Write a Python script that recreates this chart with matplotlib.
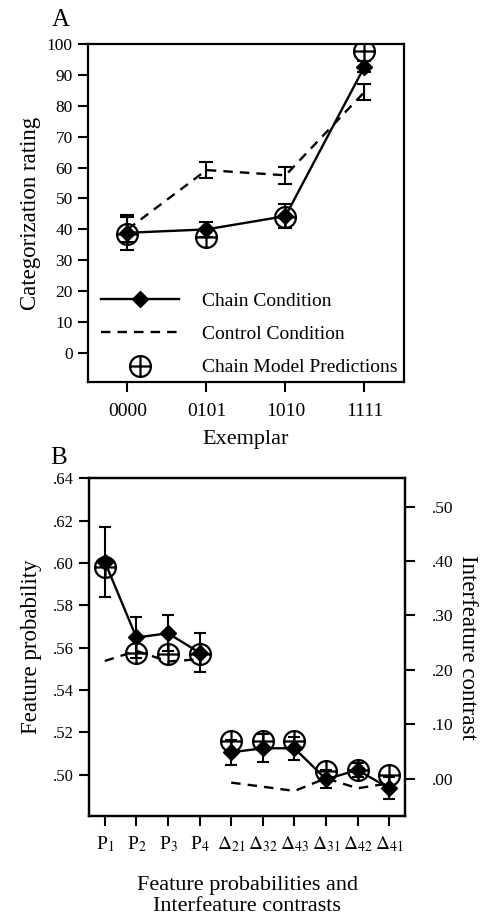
import matplotlib
matplotlib.use("Agg")
import matplotlib.pyplot as plt
from matplotlib.path import Path
from matplotlib.lines import Line2D

plt.rcParams["font.family"] = ["Liberation Serif", "DejaVu Serif"]
plt.rcParams["mathtext.fontset"] = "stix"

# Panel A data
exemplars = ["0000", "0101", "1010", "1111"]
chain_rating = [38.9, 40.0, 44.3, 92.7]
chain_rating_err = [5.7, 2.5, 4.0, 1.9]
control_rating = [40.0, 59.2, 57.5, 84.5]
control_rating_err = [4.0, 2.6, 2.7, 2.6]
model_rating = [38.6, 37.5, 44.1, 97.8]

# Panel B data
feature_labels = [r"P$_1$", r"P$_2$", r"P$_3$", r"P$_4$",
                  r"$\Delta_{21}$", r"$\Delta_{32}$", r"$\Delta_{43}$",
                  r"$\Delta_{31}$", r"$\Delta_{42}$", r"$\Delta_{41}$"]
chain_prob = [0.6006, 0.5648, 0.5668, 0.5576]
chain_prob_err = [0.0165, 0.0095, 0.0085, 0.0092]
model_prob = [0.5981, 0.5576, 0.5569, 0.5569]
control_prob = [0.5537, 0.5585, 0.5535, 0.5545]
chain_contrast = [0.0485, 0.0559, 0.0559, -0.0010, 0.0160, -0.0177]
chain_contrast_err = [0.0233, 0.0260, 0.0210, 0.0166, 0.0120, 0.0200]
model_contrast = [0.0699, 0.0699, 0.0699, 0.0142, 0.0160, 0.0068]
control_contrast = [-0.0073, -0.0147, -0.0226, 0.0007, -0.0177, -0.0085]

# circle with a cross inside
circ = Path.unit_circle()
cross = Path([[-1, 0], [1, 0], [0, -1], [0, 1]],
             [Path.MOVETO, Path.LINETO, Path.MOVETO, Path.LINETO])
oplus = Path.make_compound_path(circ, cross)

lw = 1.7
dash = (0, (4, 3))
dms = 8
model_kw = dict(marker=oplus, markersize=15, markerfacecolor="none",
                markeredgecolor="black", markeredgewidth=1.6, linestyle="none")


def style_axis(ax):
    for s in ax.spines.values():
        s.set_linewidth(1.6)
    ax.tick_params(direction="out", length=7, width=1.5, pad=4)


fig = plt.figure(figsize=(4.84, 9.15), dpi=100)

# ---- Panel A ----
axA = fig.add_axes([0.1818, 0.5825, 0.6529, 0.3694])
xa = list(range(len(exemplars)))
axA.errorbar(xa, control_rating, yerr=control_rating_err, color="black",
             linestyle=dash, linewidth=lw, capsize=5, capthick=1.5, elinewidth=1.5)
axA.errorbar(xa, chain_rating, yerr=chain_rating_err, color="black",
             linestyle="-", linewidth=lw, marker="D", markersize=dms,
             capsize=5, capthick=1.5, elinewidth=1.5)
axA.plot(xa, model_rating, **model_kw)
axA.set_xlim(-0.5, 3.5)
axA.set_ylim(-9.4, 100)
axA.set_yticks(range(0, 101, 10))
axA.set_xticks(xa)
axA.set_xticklabels(exemplars, fontsize=14)
axA.tick_params(axis="y", labelsize=12.5)
axA.set_xlabel("Exemplar", fontsize=16, labelpad=7)
axA.set_ylabel("Categorization rating", fontsize=16.5, labelpad=4)
style_axis(axA)
axA.tick_params(axis="x", pad=8)

handles = [
    Line2D([], [], color="black", linewidth=lw, marker="D", markersize=dms),
    Line2D([], [], color="black", linewidth=lw, linestyle=dash),
    Line2D([], [], **model_kw),
]
axA.legend(handles, ["Chain Condition", "Control Condition", "Chain Model Predictions"],
           loc="lower left", bbox_to_anchor=(0.03, 0.005), frameon=False,
           fontsize=14, handlelength=4.0, handletextpad=1.2, labelspacing=0.8,
           borderpad=0.2, borderaxespad=0)
fig.text(0.107, 0.99, "A", fontsize=18, va="top")

# ---- Panel B ----
axB = fig.add_axes([0.1839, 0.1082, 0.6529, 0.3691])
ax2 = axB.twinx()
xp = list(range(4))
xd = list(range(4, len(feature_labels)))

axB.plot(xp, control_prob, color="black", linestyle=dash, linewidth=lw)
axB.errorbar(xp, chain_prob, yerr=chain_prob_err, color="black", linestyle="-",
             linewidth=lw, marker="D", markersize=dms, capsize=4, capthick=1.5,
             elinewidth=1.5)
axB.plot(xp, model_prob, **model_kw)

ax2.plot(xd, control_contrast, color="black", linestyle=dash, linewidth=lw)
ax2.errorbar(xd, chain_contrast, yerr=chain_contrast_err, color="black",
             linestyle="-", linewidth=lw, marker="D", markersize=dms, capsize=4,
             capthick=1.5, elinewidth=1.5)
ax2.plot(xd, model_contrast, **model_kw)

axB.set_xlim(-0.5, 9.5)
axB.set_ylim(0.4805, 0.64)
prob_ticks = [0.50, 0.52, 0.54, 0.56, 0.58, 0.60, 0.62, 0.64]
axB.set_yticks(prob_ticks)
axB.set_yticklabels([("%.2f" % t)[1:] for t in prob_ticks], fontsize=12)
ax2.set_ylim(-0.0686, 0.5522)
con_ticks = [0.0, 0.1, 0.2, 0.3, 0.4, 0.5]
ax2.set_yticks(con_ticks)
ax2.set_yticklabels([("%.2f" % t)[1:] for t in con_ticks], fontsize=12.5)
axB.set_xticks(list(range(len(feature_labels))))
axB.set_xticklabels(feature_labels, fontsize=14)
axB.set_xlabel("Feature probabilities and\nInterfeature contrasts",
               fontsize=16, labelpad=16, linespacing=1.15)
axB.set_ylabel("Feature probability", fontsize=16.5, labelpad=8)
ax2.set_ylabel("Interfeature contrast", fontsize=16.5, rotation=270, labelpad=18)
style_axis(axB)
style_axis(ax2)
axB.tick_params(axis="x", pad=6)
ax2.tick_params(axis="y", pad=12)
fig.text(0.103, 0.512, "B", fontsize=18, va="top")

fig.savefig("out.png", dpi=100)
plt.close(fig)
